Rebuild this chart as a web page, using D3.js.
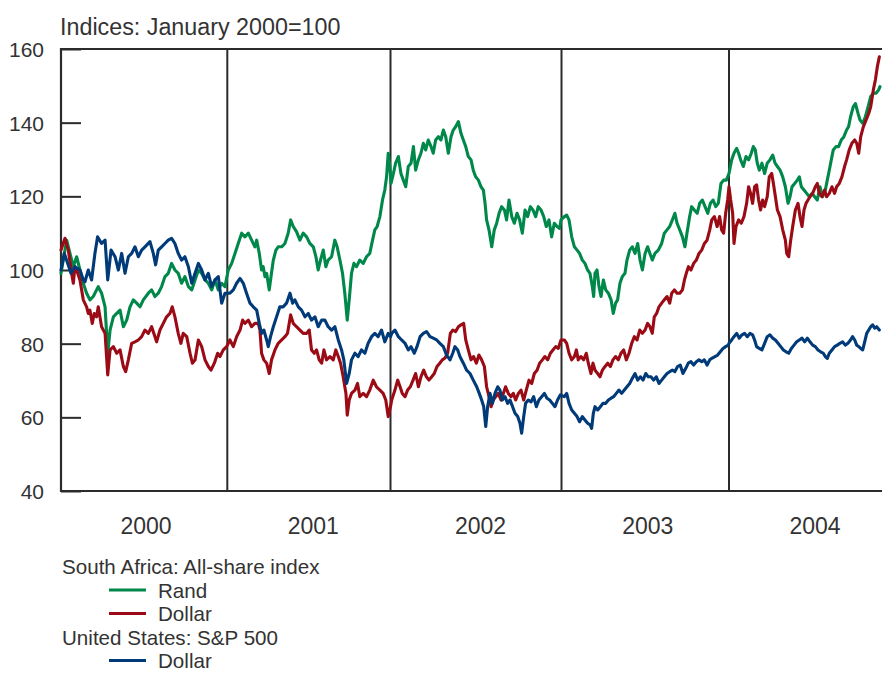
<!DOCTYPE html>
<html><head><meta charset="utf-8">
<script src="https://cdn.jsdelivr.net/npm/d3@7"></script>
<style>
body{margin:0;background:#fff;}
svg text{font-family:"Liberation Sans",Arial,sans-serif;fill:#333;}
</style></head><body>
<svg id="c" width="885" height="673"></svg>
<script>
const yearBreaks = [2000, 2001, 2002, 2003, 2004, 2004.92];
const yearLabels = [2000, 2001, 2002, 2003, 2004];
const yTicks = [40, 60, 80, 100, 120, 140, 160];
const title = "Indices: January 2000=100";

const randSA = [[2000.000,99.1],[2000.034,108.1],[2000.054,104.5],[2000.074,100.9],[2000.094,103.6],[2000.114,100],[2000.134,96.4],[2000.154,93.7],[2000.174,91.9],[2000.194,92.8],[2000.224,95.5],[2000.244,93.7],[2000.265,90.0],[2000.281,77.4],[2000.295,83.7],[2000.315,87.3],[2000.335,88.2],[2000.355,89.1],[2000.375,84.6],[2000.395,86.4],[2000.415,90.0],[2000.435,91.9],[2000.455,91.0],[2000.475,90.0],[2000.495,91.9],[2000.525,93.7],[2000.545,94.6],[2000.565,92.8],[2000.585,93.7],[2000.605,95.5],[2000.625,98.2],[2000.645,99.1],[2000.665,101.8],[2000.685,100],[2000.705,99.1],[2000.725,96.4],[2000.745,98.2],[2000.766,95.5],[2000.786,94.6],[2000.806,97.3],[2000.826,100],[2000.846,99.1],[2000.866,97.3],[2000.886,96.4],[2000.906,94.6],[2000.926,97.3],[2000.946,94.6],[2000.966,96.4],[2000.986,95.5],
[2001.006,100],[2001.027,101.8],[2001.047,104.5],[2001.067,107.2],[2001.088,110.0],[2001.108,109.0],[2001.129,110.0],[2001.149,108.1],[2001.169,106.3],[2001.180,108.1],[2001.196,104.5],[2001.210,100],[2001.220,100.9],[2001.231,98.2],[2001.241,99.1],[2001.257,94.6],[2001.265,97.3],[2001.282,102.7],[2001.298,105.4],[2001.312,106.3],[2001.333,106.3],[2001.353,107.2],[2001.373,110.0],[2001.388,113.6],[2001.404,111.8],[2001.424,110.4],[2001.445,108.1],[2001.465,110.0],[2001.486,109.0],[2001.506,107.2],[2001.527,106.3],[2001.543,103.6],[2001.557,100],[2001.571,102.7],[2001.588,105.4],[2001.604,100.9],[2001.618,102.7],[2001.639,103.6],[2001.659,108.1],[2001.673,106.3],[2001.690,102.7],[2001.706,99.1],[2001.720,93.7],[2001.735,86.4],[2001.747,91.9],[2001.761,99.1],[2001.776,101.8],[2001.792,100.9],[2001.812,102.7],[2001.833,101.8],[2001.853,103.6],[2001.873,104.5],[2001.890,108.1],[2001.904,110.9],[2001.918,111.8],[2001.935,114.5],[2001.951,119.0],[2001.965,121.7],[2001.976,125.3],[2001.986,131.7],[2001.996,128.1],
[2002.003,123.5],[2002.017,126.2],[2002.030,129.0],[2002.046,130.8],[2002.061,126.2],[2002.075,124.4],[2002.089,122.6],[2002.104,128.1],[2002.120,129.0],[2002.134,133.5],[2002.147,127.1],[2002.163,129.9],[2002.178,131.7],[2002.192,134.4],[2002.206,132.6],[2002.221,135.3],[2002.237,133.5],[2002.250,131.7],[2002.264,135.3],[2002.280,136.2],[2002.295,135.3],[2002.309,138.0],[2002.323,136.2],[2002.338,131.7],[2002.354,136.2],[2002.367,138.0],[2002.381,138.9],[2002.397,140.3],[2002.412,137.1],[2002.426,135.3],[2002.440,133.5],[2002.455,130.8],[2002.471,129.9],[2002.484,127.1],[2002.498,125.3],[2002.514,124.4],[2002.529,122.6],[2002.543,121.7],[2002.553,118.1],[2002.562,113.6],[2002.576,110.9],[2002.592,106.3],[2002.607,110.9],[2002.621,112.7],[2002.635,115.4],[2002.650,117.2],[2002.666,116.3],[2002.679,113.6],[2002.693,119.0],[2002.709,114.5],[2002.724,112.7],[2002.740,115.4],[2002.755,113.6],[2002.771,110.0],[2002.787,116.3],[2002.802,114.5],[2002.818,117.2],[2002.833,116.3],[2002.849,114.5],[2002.864,117.2],[2002.880,116.3],[2002.896,114.5],[2002.911,111.8],[2002.927,113.6],[2002.942,109.0],[2002.958,112.7],[2002.974,111.8],[2002.989,111.3],[2002.997,113.6],
[2003.017,114.5],[2003.031,114.9],[2003.045,113.6],[2003.061,109.0],[2003.077,106.3],[2003.093,105.4],[2003.108,104.5],[2003.124,102.7],[2003.140,101.8],[2003.156,100],[2003.170,99.1],[2003.184,95.5],[2003.192,92.8],[2003.200,99.1],[2003.212,100],[2003.224,95.5],[2003.236,92.8],[2003.250,97.3],[2003.264,94.6],[2003.280,93.7],[2003.296,91.9],[2003.309,88.2],[2003.323,91.0],[2003.335,91.9],[2003.349,96.4],[2003.363,98.2],[2003.379,99.1],[2003.391,102.7],[2003.407,105.4],[2003.423,106.3],[2003.439,104.5],[2003.455,107.2],[2003.469,102.7],[2003.483,100],[2003.499,104.5],[2003.514,106.3],[2003.528,104.5],[2003.542,102.7],[2003.558,104.5],[2003.578,105.4],[2003.598,107.2],[2003.614,110.0],[2003.630,110.9],[2003.646,111.8],[2003.662,113.6],[2003.677,115.4],[2003.690,112.7],[2003.706,110.9],[2003.722,109.0],[2003.737,106.3],[2003.749,110.0],[2003.765,114.5],[2003.777,117.2],[2003.793,116.3],[2003.810,115.4],[2003.825,118.1],[2003.841,119.0],[2003.857,117.2],[2003.873,115.4],[2003.889,118.1],[2003.905,119.0],[2003.921,117.2],[2003.936,118.1],[2003.952,123.5],[2003.968,124.4],[2003.984,124.4],
[2004.000,126.2],[2004.016,129.9],[2004.030,131.7],[2004.046,133.0],[2004.058,131.7],[2004.070,129.9],[2004.086,128.1],[2004.102,130.8],[2004.118,129.9],[2004.134,131.7],[2004.146,133.5],[2004.158,132.6],[2004.170,129.0],[2004.182,127.1],[2004.198,129.0],[2004.214,126.2],[2004.230,129.0],[2004.246,129.9],[2004.263,131.2],[2004.277,129.0],[2004.291,128.1],[2004.307,127.1],[2004.323,125.3],[2004.339,122.6],[2004.355,118.1],[2004.367,119.9],[2004.379,122.6],[2004.395,123.5],[2004.411,124.4],[2004.423,125.3],[2004.435,122.6],[2004.451,121.7],[2004.467,120.8],[2004.483,119.9],[2004.499,120.8],[2004.515,119.9],[2004.531,119.0],[2004.547,122.6],[2004.563,119.9],[2004.579,121.7],[2004.591,124.4],[2004.603,127.1],[2004.615,129.9],[2004.627,132.6],[2004.643,133.5],[2004.659,133.5],[2004.675,135.3],[2004.691,136.2],[2004.707,138.0],[2004.719,138.9],[2004.731,141.6],[2004.747,144.3],[2004.760,145.2],[2004.776,142.5],[2004.788,140.7],[2004.804,139.8],[2004.820,141.6],[2004.836,144.3],[2004.852,147.1],[2004.868,148.0],[2004.884,148.0],[2004.900,148.9],[2004.908,149.8]];

const dollarSA = [[2000.000,105.4],[2000.024,108.6],[2000.044,105.4],[2000.064,99.1],[2000.074,96.4],[2000.084,100.9],[2000.094,100],[2000.114,97.3],[2000.134,91.9],[2000.154,90.0],[2000.164,88.2],[2000.174,89.1],[2000.188,85.5],[2000.200,88.2],[2000.214,87.3],[2000.224,90.0],[2000.244,84.6],[2000.265,82.8],[2000.281,71.5],[2000.295,78.3],[2000.315,79.2],[2000.335,77.4],[2000.355,78.3],[2000.375,73.8],[2000.389,72.4],[2000.405,75.6],[2000.425,80.1],[2000.445,80.5],[2000.465,81.0],[2000.485,81.9],[2000.505,83.7],[2000.525,82.8],[2000.545,84.6],[2000.565,81.9],[2000.575,80.5],[2000.595,83.7],[2000.615,85.5],[2000.635,87.3],[2000.655,88.2],[2000.669,90.0],[2000.685,87.3],[2000.705,82.8],[2000.721,80.1],[2000.735,82.8],[2000.756,81.9],[2000.776,77.4],[2000.790,74.7],[2000.806,75.6],[2000.826,81.0],[2000.846,79.2],[2000.866,75.6],[2000.886,73.8],[2000.902,72.8],[2000.922,74.7],[2000.942,77.4],[2000.956,76.5],[2000.976,78.3],[2000.996,79.2],
[2001.016,81.0],[2001.037,79.2],[2001.057,81.9],[2001.078,83.7],[2001.094,86.4],[2001.108,85.5],[2001.129,86.4],[2001.149,84.6],[2001.169,85.5],[2001.190,85.5],[2001.200,83.7],[2001.210,77.4],[2001.224,75.6],[2001.241,74.7],[2001.257,71.9],[2001.271,75.6],[2001.292,78.3],[2001.312,80.1],[2001.333,81.0],[2001.353,81.9],[2001.369,82.8],[2001.388,87.8],[2001.404,85.5],[2001.424,84.6],[2001.445,83.7],[2001.465,82.8],[2001.486,82.8],[2001.502,83.7],[2001.516,78.3],[2001.533,77.4],[2001.547,78.3],[2001.563,75.6],[2001.578,74.7],[2001.592,78.3],[2001.608,75.6],[2001.629,76.5],[2001.649,75.6],[2001.665,78.3],[2001.680,76.5],[2001.694,74.7],[2001.710,71.0],[2001.727,66.5],[2001.735,60.6],[2001.747,64.7],[2001.761,66.5],[2001.782,67.4],[2001.798,69.2],[2001.812,65.6],[2001.833,66.5],[2001.853,65.6],[2001.873,67.4],[2001.894,70.1],[2001.914,68.3],[2001.935,67.4],[2001.955,66.5],[2001.971,64.7],[2001.986,60.2],[2002.000,62.9],
[2002.007,64.7],[2002.026,67.4],[2002.042,70.1],[2002.056,68.3],[2002.069,66.5],[2002.085,65.6],[2002.100,67.4],[2002.116,68.3],[2002.132,70.1],[2002.147,71.9],[2002.163,68.3],[2002.178,71.0],[2002.194,72.8],[2002.210,71.0],[2002.225,70.1],[2002.241,71.0],[2002.256,71.9],[2002.272,73.8],[2002.288,74.7],[2002.303,75.6],[2002.319,76.1],[2002.334,77.4],[2002.350,82.8],[2002.365,83.7],[2002.381,83.3],[2002.397,84.6],[2002.412,85.1],[2002.428,85.5],[2002.440,81.0],[2002.455,78.3],[2002.471,75.6],[2002.486,76.5],[2002.502,74.7],[2002.517,76.9],[2002.533,75.6],[2002.549,73.8],[2002.562,68.3],[2002.576,65.6],[2002.588,62.9],[2002.601,64.7],[2002.615,65.6],[2002.630,66.5],[2002.646,64.7],[2002.660,66.5],[2002.673,68.3],[2002.689,66.5],[2002.705,65.6],[2002.718,66.5],[2002.732,64.7],[2002.748,66.5],[2002.763,67.4],[2002.779,64.7],[2002.794,67.4],[2002.810,70.1],[2002.826,69.2],[2002.841,71.9],[2002.857,72.8],[2002.872,74.7],[2002.888,75.6],[2002.903,76.5],[2002.919,75.6],[2002.935,77.4],[2002.950,78.3],[2002.966,79.2],[2002.981,78.7],[2002.997,81.0],
[2003.017,81.0],[2003.031,80.1],[2003.045,77.4],[2003.061,75.6],[2003.077,76.5],[2003.089,78.3],[2003.100,75.6],[2003.116,76.5],[2003.132,75.6],[2003.148,77.4],[2003.160,74.7],[2003.176,71.9],[2003.188,74.7],[2003.200,72.8],[2003.216,71.9],[2003.230,71.0],[2003.244,72.8],[2003.260,73.8],[2003.276,74.7],[2003.292,73.8],[2003.307,75.6],[2003.323,76.5],[2003.339,75.6],[2003.355,77.4],[2003.371,78.3],[2003.387,75.6],[2003.403,77.4],[2003.419,80.1],[2003.435,81.9],[2003.451,81.0],[2003.467,83.7],[2003.483,82.8],[2003.499,83.7],[2003.514,85.5],[2003.528,84.6],[2003.542,82.8],[2003.554,87.3],[2003.568,88.2],[2003.582,90.0],[2003.598,91.0],[2003.614,91.9],[2003.630,92.8],[2003.646,91.0],[2003.658,93.7],[2003.674,94.6],[2003.690,93.7],[2003.706,93.7],[2003.722,94.6],[2003.734,97.3],[2003.745,99.1],[2003.758,100.9],[2003.773,100],[2003.789,101.8],[2003.805,102.7],[2003.821,104.5],[2003.837,105.4],[2003.853,107.2],[2003.869,108.1],[2003.885,110.9],[2003.897,113.6],[2003.913,114.5],[2003.929,111.8],[2003.944,114.5],[2003.956,110.9],[2003.968,110.0],[2003.980,115.4],[2003.992,119.0],
[2004.000,122.6],[2004.010,119.0],[2004.022,115.4],[2004.030,107.2],[2004.042,111.8],[2004.058,113.6],[2004.074,112.7],[2004.090,114.5],[2004.106,118.1],[2004.118,122.6],[2004.130,120.8],[2004.142,118.1],[2004.154,122.6],[2004.166,123.1],[2004.178,119.0],[2004.190,116.3],[2004.202,119.0],[2004.214,117.2],[2004.230,119.9],[2004.242,125.3],[2004.257,126.2],[2004.267,123.5],[2004.279,119.9],[2004.291,116.3],[2004.307,114.5],[2004.323,110.9],[2004.339,108.1],[2004.347,104.5],[2004.359,103.6],[2004.371,108.1],[2004.383,111.8],[2004.399,116.3],[2004.415,118.1],[2004.427,114.5],[2004.439,111.8],[2004.451,116.3],[2004.463,118.1],[2004.475,119.0],[2004.487,119.9],[2004.503,120.8],[2004.519,122.6],[2004.531,123.5],[2004.543,120.8],[2004.559,119.9],[2004.575,121.7],[2004.587,119.9],[2004.603,120.8],[2004.619,122.6],[2004.635,120.8],[2004.647,122.6],[2004.663,123.5],[2004.679,125.3],[2004.695,128.1],[2004.707,129.9],[2004.723,132.6],[2004.739,134.4],[2004.756,135.3],[2004.768,134.4],[2004.780,131.7],[2004.792,136.2],[2004.808,138.9],[2004.824,140.7],[2004.840,142.5],[2004.852,144.3],[2004.868,148.9],[2004.880,151.6],[2004.892,155.2],[2004.904,157.9]];

const dollarUS = [[2000.000,100],[2000.020,104.5],[2000.060,99.1],[2000.084,100.9],[2000.114,100],[2000.134,97.3],[2000.144,96.8],[2000.164,100],[2000.184,97.3],[2000.204,104.5],[2000.220,109.0],[2000.244,107.2],[2000.265,108.1],[2000.281,97.3],[2000.301,105.4],[2000.325,103.6],[2000.345,100],[2000.365,104.5],[2000.385,99.1],[2000.405,103.6],[2000.425,104.5],[2000.445,106.3],[2000.465,103.6],[2000.485,105.4],[2000.505,106.3],[2000.535,107.7],[2000.555,104.5],[2000.569,101.4],[2000.585,105.4],[2000.605,106.3],[2000.625,107.2],[2000.645,108.1],[2000.665,108.6],[2000.685,107.2],[2000.705,104.5],[2000.725,102.7],[2000.745,103.6],[2000.766,100.9],[2000.786,96.4],[2000.806,99.1],[2000.826,101.8],[2000.846,100],[2000.866,97.3],[2000.886,99.1],[2000.906,95.5],[2000.926,97.3],[2000.946,98.2],[2000.966,91.0],[2000.986,93.7],
[2001.016,93.7],[2001.037,94.6],[2001.057,96.4],[2001.078,97.7],[2001.098,96.4],[2001.118,93.7],[2001.139,91.0],[2001.159,90.0],[2001.180,89.1],[2001.196,85.5],[2001.210,82.8],[2001.224,83.7],[2001.241,81.0],[2001.251,79.2],[2001.265,81.9],[2001.282,84.6],[2001.302,87.3],[2001.322,90.0],[2001.343,90.0],[2001.363,91.0],[2001.384,93.7],[2001.400,91.0],[2001.414,91.9],[2001.435,90.0],[2001.455,89.1],[2001.476,87.3],[2001.496,88.2],[2001.516,86.4],[2001.537,87.3],[2001.557,84.6],[2001.578,86.4],[2001.598,86.4],[2001.618,84.6],[2001.639,83.7],[2001.659,84.6],[2001.680,81.0],[2001.700,78.3],[2001.714,75.6],[2001.731,69.2],[2001.747,71.9],[2001.761,75.6],[2001.782,77.4],[2001.802,76.5],[2001.822,78.3],[2001.843,77.4],[2001.863,80.1],[2001.884,81.9],[2001.904,82.8],[2001.924,81.9],[2001.945,83.7],[2001.965,80.5],[2001.986,82.8],[2002.000,81.9],
[2002.007,82.8],[2002.026,83.7],[2002.046,81.9],[2002.065,81.0],[2002.085,80.1],[2002.104,78.3],[2002.120,79.2],[2002.139,77.4],[2002.155,79.2],[2002.173,81.9],[2002.192,82.8],[2002.211,83.3],[2002.231,81.9],[2002.250,81.5],[2002.270,81.0],[2002.289,80.1],[2002.309,79.2],[2002.328,76.9],[2002.348,75.6],[2002.364,77.4],[2002.377,79.2],[2002.393,78.3],[2002.406,76.5],[2002.426,74.7],[2002.445,72.8],[2002.465,71.9],[2002.484,70.1],[2002.504,68.3],[2002.519,66.5],[2002.533,64.7],[2002.545,62.9],[2002.557,57.5],[2002.568,62.9],[2002.582,66.5],[2002.596,63.8],[2002.611,66.5],[2002.627,68.3],[2002.640,67.4],[2002.654,64.7],[2002.670,65.6],[2002.685,63.8],[2002.699,64.7],[2002.714,62.9],[2002.728,61.1],[2002.744,60.2],[2002.757,58.4],[2002.767,55.7],[2002.779,60.2],[2002.790,63.8],[2002.806,64.7],[2002.822,64.2],[2002.837,65.6],[2002.853,62.9],[2002.868,64.7],[2002.884,65.6],[2002.900,66.5],[2002.915,65.2],[2002.931,64.7],[2002.946,63.8],[2002.962,62.9],[2002.977,64.7],[2002.993,66.1],
[2003.017,65.6],[2003.031,66.5],[2003.045,63.8],[2003.061,62.0],[2003.077,61.1],[2003.093,60.2],[2003.108,58.8],[2003.124,60.2],[2003.140,59.3],[2003.156,58.4],[2003.172,57.9],[2003.180,57.0],[2003.190,61.1],[2003.200,62.9],[2003.216,62.0],[2003.232,62.9],[2003.248,63.8],[2003.264,63.8],[2003.280,64.7],[2003.296,65.2],[2003.311,65.6],[2003.327,66.5],[2003.343,67.4],[2003.359,66.5],[2003.375,67.4],[2003.391,68.3],[2003.407,69.2],[2003.423,70.6],[2003.439,71.9],[2003.455,70.1],[2003.471,71.0],[2003.487,70.1],[2003.503,71.9],[2003.518,71.0],[2003.534,71.0],[2003.550,70.1],[2003.566,71.0],[2003.582,69.2],[2003.598,70.1],[2003.614,71.0],[2003.630,71.9],[2003.646,72.4],[2003.662,72.8],[2003.677,72.4],[2003.693,73.8],[2003.709,74.2],[2003.725,71.9],[2003.742,73.3],[2003.757,74.7],[2003.773,75.1],[2003.789,74.2],[2003.805,75.1],[2003.821,75.6],[2003.837,75.1],[2003.853,75.6],[2003.869,74.2],[2003.885,75.6],[2003.900,76.1],[2003.916,76.5],[2003.932,76.9],[2003.948,77.8],[2003.964,78.7],[2003.980,79.2],[2003.996,79.6],
[2004.000,80.1],[2004.016,81.0],[2004.030,81.9],[2004.046,82.8],[2004.062,81.5],[2004.078,82.4],[2004.094,82.8],[2004.110,81.9],[2004.126,82.8],[2004.142,82.4],[2004.154,81.0],[2004.166,79.2],[2004.182,78.7],[2004.198,78.3],[2004.214,80.1],[2004.230,81.9],[2004.246,82.4],[2004.263,81.5],[2004.279,81.0],[2004.295,80.1],[2004.311,79.2],[2004.327,78.3],[2004.343,77.8],[2004.359,77.4],[2004.375,78.7],[2004.391,79.6],[2004.407,80.5],[2004.423,81.0],[2004.439,81.5],[2004.455,80.5],[2004.471,81.5],[2004.487,80.5],[2004.503,79.6],[2004.519,79.2],[2004.535,78.3],[2004.551,77.8],[2004.567,77.4],[2004.579,76.5],[2004.591,76.0],[2004.603,77.4],[2004.619,78.3],[2004.635,79.2],[2004.651,79.6],[2004.667,80.1],[2004.683,80.5],[2004.699,79.6],[2004.715,80.1],[2004.731,81.0],[2004.743,81.9],[2004.756,81.0],[2004.768,79.6],[2004.780,79.2],[2004.792,78.7],[2004.804,78.3],[2004.816,80.5],[2004.828,82.8],[2004.840,83.7],[2004.852,84.6],[2004.864,85.1],[2004.876,84.2],[2004.888,84.6],[2004.904,83.7]];

const legendGroups = [
  {head: "South Africa: All-share index", items: [{label: "Rand", color: "#00884a"}, {label: "Dollar", color: "#9b0b15"}]},
  {head: "United States: S&P 500", items: [{label: "Dollar", color: "#003a78"}]}
];
const seriesList = [
  {data: randSA, color: "#00884a"},
  {data: dollarSA, color: "#9b0b15"},
  {data: dollarUS, color: "#003a78"}
];

const svg = d3.select("#c");
const L = 61, R = 882, T = 49, B = 491;
const x = d3.scaleLinear().domain(yearBreaks).range([61, 227.3, 390.5, 561.5, 729, 882]);
const xLab = d3.scaleLinear().domain([2000.5, 2004.5]).range([146, 815]);
const y = d3.scaleLinear().domain([40, 160]).range([B, T]);
const axisColor = "#2b2b2b";

// title
svg.append("text").attr("x", 60).attr("y", 35).attr("font-size", 23.3).text(title);

// y ticks inward + labels
const yAxis = d3.axisLeft(y).tickValues(yTicks).tickSize(-20).tickPadding(17).tickFormat(d3.format("d"));
const gy = svg.append("g").attr("transform", `translate(${L},0)`).call(yAxis);
gy.select(".domain").remove();
gy.selectAll(".tick line").attr("stroke", axisColor).attr("stroke-width", 2);
gy.selectAll(".tick text").attr("font-size", 21).attr("font-family", "Liberation Sans, Arial, sans-serif").attr("fill", "#333").attr("dy", "0.36em");

// year dividers
svg.append("g").selectAll("line").data(yearBreaks.slice(1, 5)).join("line")
  .attr("x1", d => x(d)).attr("x2", d => x(d)).attr("y1", T).attr("y2", B)
  .attr("stroke", axisColor).attr("stroke-width", 2);

// frame: left, top, bottom
svg.append("path").attr("d", `M${R},${T}H${L}V${B}H${R}`).attr("fill", "none")
  .attr("stroke", axisColor).attr("stroke-width", 2.2);

// year labels
svg.append("g").selectAll("text").data(yearLabels).join("text")
  .attr("x", d => xLab(d + 0.5)).attr("y", 534).attr("text-anchor", "middle").attr("font-size", 23).text(d => d);

// series
const line = d3.line().x(d => x(d[0])).y(d => y(d[1]));
svg.append("g").selectAll("path").data(seriesList).join("path")
  .attr("d", d => line(d.data)).attr("fill", "none").attr("stroke", d => d.color)
  .attr("stroke-width", 3.1).attr("stroke-linejoin", "round").attr("stroke-linecap", "round");

// legend
let ly = 574;
const lg = svg.append("g");
legendGroups.forEach(g => {
  lg.append("text").attr("x", 62).attr("y", ly).attr("font-size", 20.6).text(g.head);
  ly += 23.5;
  g.items.forEach(it => {
    lg.append("line").attr("x1", 109).attr("x2", 146).attr("y1", ly - 7.5).attr("y2", ly - 7.5)
      .attr("stroke", it.color).attr("stroke-width", 2.8);
    lg.append("text").attr("x", 158).attr("y", ly).attr("font-size", 20.6).text(it.label);
    ly += 23.5;
  });
});
</script></body></html>
